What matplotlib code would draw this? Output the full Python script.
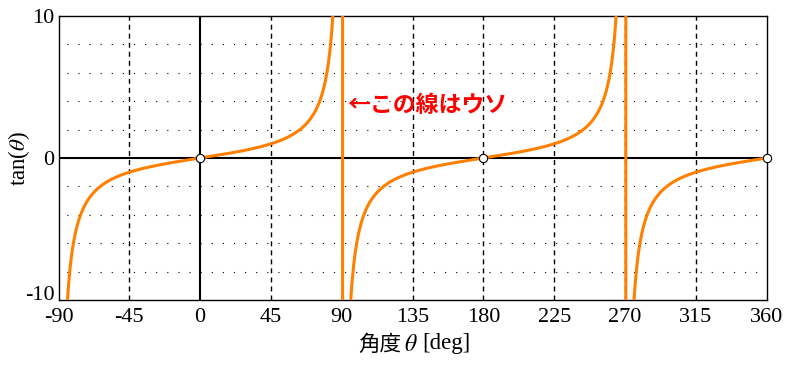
import numpy as np
import matplotlib.pyplot as plt

# data: tan over -90..360 deg
theta_deg = np.arange(-90, 360.5, 0.5)
tan_vals = np.tan(np.radians(theta_deg))
zero_pts_x = [0, 180, 360]
zero_pts_y = [0, 0, 0]
xticks = [-90, -45, 0, 45, 90, 135, 180, 225, 270, 315, 360]
yticks = [-10, 0, 10]
ygrid = [-8, -6, -4, -2, 2, 4, 6, 8]
note = "←この線はウソ"

W, H = 801, 371
fig = plt.figure(figsize=(W / 100, H / 100), dpi=100)
ax = fig.add_axes([58.5 / W, 1 - 300 / H, (766.7 - 58.5) / W, (300 - 16) / H])

serif = ['Liberation Serif', 'DejaVu Serif']
cjk = ['Noto Sans CJK JP', 'DejaVu Sans']

# grid
for y in ygrid:
    ax.axhline(y, color='black', lw=0.8, ls=(3, (1, 9)), zorder=1)
for x in xticks[1:-1]:
    if x != 0:
        ax.axvline(x, color='black', lw=1, ls=(0, (3.6, 2.9)), zorder=1)
ax.axhline(0, color='black', lw=1.5, zorder=2)
ax.axvline(0, color='black', lw=1.5, zorder=2)

ax.plot(theta_deg, tan_vals, color='#ff8000', lw=2.2, zorder=3)
ax.plot(zero_pts_x, zero_pts_y, 'o', ms=6, mfc='white', mec='black', mew=0.8,
        zorder=5, clip_on=False)

ax.text(93.5, 3.7, note, color='#ff0000', fontsize=16.5, fontweight='bold',
        family=cjk, ha='left', va='center', zorder=6)

ax.set_xlim(-90, 360)
ax.set_ylim(-10, 10)
ax.set_xticks(xticks)
ax.set_yticks(yticks)
ax.set_xticklabels([str(v) for v in xticks], family=serif, fontsize=16)
ax.set_yticklabels([str(v) for v in yticks], family=serif, fontsize=16)
ax.tick_params(length=0)
ax.tick_params(axis='x', pad=6)
ax.tick_params(axis='y', pad=3)
# keep -10 clear of -90
ax.get_yticklabels()[0].set_va('baseline')
for s in ax.spines.values():
    s.set_linewidth(1)

# labels
plt.rcParams['mathtext.fontset'] = 'stix'
fig.text(19 / W, 1 - 158 / H, r'tan($\theta$)', rotation=90, family=serif,
         fontsize=16.5, ha='center', va='center')
fig.text(401 / W, 1 - 345 / H, '角度', family=cjk, fontsize=15.5,
         ha='right', va='center')
fig.text(404 / W, 1 - 344 / H, r'$\theta$', fontsize=17,
         ha='left', va='center')
fig.text(422 / W, 1 - 344 / H, '[deg]', family=serif, fontsize=16.5,
         ha='left', va='center')

fig.savefig('out.png', dpi=100)
